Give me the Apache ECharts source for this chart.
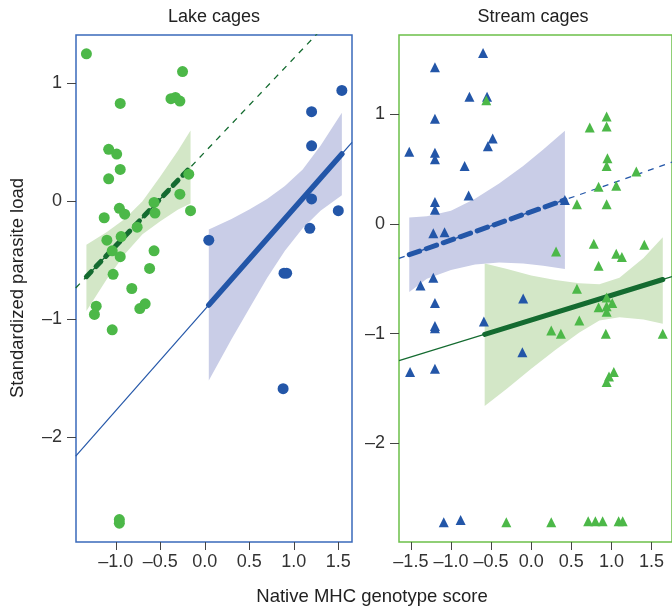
<!DOCTYPE html>
<html><head><meta charset="utf-8">
<script src="https://cdn.jsdelivr.net/npm/echarts@6/dist/echarts.min.js"></script>
<style>html,body{margin:0;padding:0;background:#fff}#c{width:672px;height:608px}</style>
</head><body><div id="c"></div>
<script>
// ---------- data ----------
const panelTitles = ['Lake cages', 'Stream cages'];
const xTicks = [-1.5, -1, -0.5, 0, 0.5, 1, 1.5];
const xTicksLake = [-1, -0.5, 0, 0.5, 1, 1.5];
const yTicks = [-2, -1, 0, 1];
const xName = 'Native MHC genotype score';
const yName = 'Standardized parasite load';

// Lake cages: points
const lakeGreen = [[-1.33,1.25],[-0.25,1.10],[-0.95,0.83],[-0.38,0.87],[-0.33,0.88],[-0.28,0.85],[-1.08,0.44],[-0.99,0.40],[-0.95,0.27],[-1.08,0.19],[-0.18,0.23],[-0.28,0.06],[-0.16,-0.08],[-0.57,-0.01],[-0.56,-0.10],[-0.96,-0.06],[-0.90,-0.11],[-1.13,-0.14],[-0.76,-0.22],[-1.10,-0.33],[-0.94,-0.30],[-1.04,-0.42],[-0.95,-0.47],[-0.57,-0.42],[-0.62,-0.57],[-1.03,-0.62],[-0.82,-0.74],[-1.22,-0.89],[-1.24,-0.96],[-0.73,-0.91],[-0.67,-0.87],[-1.04,-1.09],[-0.96,-2.70],[-0.96,-2.73]];
const lakeBlue = [[1.54,0.94],[1.20,0.76],[1.20,0.47],[1.20,0.02],[1.50,-0.08],[1.18,-0.23],[0.045,-0.33],[0.89,-0.61],[0.92,-0.61],[0.88,-1.59]];

// Stream cages: points
const streamBlue = [[-0.60,1.56],[-1.20,1.43],[-0.77,1.16],[-0.55,1.16],[-1.20,0.96],[-0.48,0.78],[-0.54,0.71],[-1.52,0.66],[-1.20,0.65],[-1.20,0.59],[-0.83,0.53],[-0.78,0.26],[-1.20,0.20],[-1.20,0.13],[0.42,0.22],[-1.22,-0.085],[-1.08,-0.076],[-1.22,-0.49],[-1.38,-0.56],[-1.20,-0.72],[-1.20,-0.93],[-1.20,-0.95],[-0.59,-0.89],[-0.10,-0.68],[-0.11,-1.17],[-1.51,-1.35],[-1.20,-1.32],[-1.09,-2.72],[-0.88,-2.70]];
const streamGreen = [[-0.56,1.13],[0.94,0.98],[0.94,0.89],[0.73,0.88],[0.95,0.60],[0.94,0.53],[1.31,0.48],[0.84,0.34],[1.06,0.35],[0.57,0.18],[0.94,0.18],[0.31,-0.25],[0.78,-0.18],[1.41,-0.19],[1.06,-0.27],[1.13,-0.30],[0.84,-0.38],[0.57,-0.59],[0.94,-0.67],[0.84,-0.76],[1.01,-0.72],[0.94,-0.75],[0.94,-0.80],[0.60,-0.88],[0.25,-0.97],[0.37,-1.00],[0.93,-1.00],[1.64,-1.00],[0.97,-1.39],[1.03,-1.35],[0.94,-1.44],[-0.31,-2.72],[0.25,-2.72],[0.71,-2.71],[0.80,-2.71],[0.89,-2.71],[1.09,-2.71],[1.14,-2.71]];

// Fitted lines: [x, y] end points
const lakeGreenThin  = [[-1.45,-0.736],[1.6,1.689]];
const lakeGreenThick = [[-1.33,-0.640],[-0.16,0.290]];
const lakeBlueThin   = [[-1.45,-2.162],[1.654,0.499]];
const lakeBlueThick  = [[0.045,-0.880],[1.54,0.401]];
const streamBlueThin   = [[-1.648,-0.313],[1.755,0.565]];
const streamBlueThick  = [[-1.52,-0.280],[0.42,0.220]];
const streamGreenThin  = [[-1.648,-1.246],[1.755,-0.480]];
const streamGreenThick = [[-0.58,-1.006],[1.64,-0.506]];

// Confidence bands
const lakeGreenBandX  = [-1.33,-1.1,-0.9,-0.7,-0.5,-0.3,-0.16];
const lakeGreenBandLo = [-0.93,-0.66,-0.45,-0.28,-0.17,-0.07,-0.02];
const lakeGreenBandHi = [-0.37,-0.26,-0.15,0.00,0.21,0.43,0.60];
const lakeBlueBandX  = [0.045,0.3,0.5,0.7,0.9,1.1,1.3,1.54];
const lakeBlueBandLo = [-1.52,-1.17,-0.91,-0.65,-0.42,-0.23,-0.08,0.05];
const lakeBlueBandHi = [-0.24,-0.15,-0.07,0.02,0.13,0.27,0.47,0.75];
const streamBlueBandX  = [-1.52,-1.3,-1.0,-0.7,-0.4,-0.1,0.15,0.42];
const streamBlueBandLo = [-0.62,-0.50,-0.42,-0.37,-0.35,-0.36,-0.38,-0.41];
const streamBlueBandHi = [0.06,0.07,0.12,0.23,0.37,0.53,0.68,0.85];
const streamGreenBandX  = [-0.58,-0.3,0.0,0.3,0.6,0.85,1.1,1.4,1.64];
const streamGreenBandLo = [-1.66,-1.50,-1.32,-1.15,-0.99,-0.88,-0.85,-0.87,-0.91];
const streamGreenBandHi = [-0.36,-0.41,-0.47,-0.51,-0.54,-0.55,-0.49,-0.31,-0.12];

// ---------- style ----------
const FONT = '"Liberation Sans", Arial, Helvetica, sans-serif';
const BLUE = '#2356a8', GREEN = '#4cb848', DKGREEN = '#146b30';
const BLUEBAND = '#c9cde7', GREENBAND = '#d3e7c7';
const TXT = '#333';

const fmtX = v => (v < 0 ? '\u2013' : '') + Math.abs(v).toFixed(1);
const fmtY = v => (v < 0 ? '\u2013' : '') + Math.abs(v);

function xAxisDef(gi, min, max, ticks) {
  return { type:'value', gridIndex:gi, min, max, position:'bottom', splitLine:{show:false},
    axisLine:{show:false, onZero:false},
    axisTick:{show:true, length:8, customValues:ticks, lineStyle:{color:'#444', width:1}},
    axisLabel:{customValues:ticks, formatter:fmtX, fontSize:18, color:TXT, fontFamily:FONT, margin:11} };
}
function yAxisDef(gi, min, max) {
  return { type:'value', gridIndex:gi, min, max, position:'left', splitLine:{show:false},
    axisLine:{show:false, onZero:false},
    axisTick:{show:true, length:9, customValues:yTicks, lineStyle:{color:'#444', width:1}},
    axisLabel:{customValues:yTicks, formatter:fmtY, fontSize:18, color:TXT, fontFamily:FONT, margin:14} };
}
function band(ai, xs, lo, hi, color) {
  return { type:'custom', xAxisIndex:ai, yAxisIndex:ai, data:[[xs[0], lo[0]]], z:1, silent:true, clip:true,
    renderItem:(params, api) => {
      const pts = [];
      for (let i = 0; i < xs.length; i++) pts.push(api.coord([xs[i], hi[i]]));
      for (let i = xs.length - 1; i >= 0; i--) pts.push(api.coord([xs[i], lo[i]]));
      return { type:'polygon', shape:{points:pts}, style:{fill:color} };
    } };
}
function line(ai, data, color, width, type, z) {
  return { type:'line', xAxisIndex:ai, yAxisIndex:ai, data, symbol:'none', silent:true, z, clip:true,
    lineStyle:{color, width, type, cap: width > 2 ? 'round' : 'butt'}, animation:false };
}
function pts(ai, data, color, symbol, size) {
  return { type:'scatter', xAxisIndex:ai, yAxisIndex:ai, data, symbol, symbolSize:size, z:5,
    itemStyle:{color, opacity:1}, silent:true };
}

const chart = echarts.init(document.getElementById('c'), null, {renderer:'canvas'});
chart.setOption({
  animation:false,
  backgroundColor:'#fff',
  grid:[
    {left:76, top:35, width:276, height:507, show:true, borderColor:'#3a6abb', borderWidth:1.5, backgroundColor:'transparent'},
    {left:399, top:35, width:276, height:507, show:true, borderColor:'#6cc04a', borderWidth:1.5, backgroundColor:'transparent'}
  ],
  xAxis:[ xAxisDef(0, -1.447, 1.654, xTicksLake), xAxisDef(1, -1.648, 1.755, xTicks) ],
  yAxis:[ yAxisDef(0, -2.89, 1.41), yAxisDef(1, -2.90, 1.724) ],
  graphic:[
    {type:'text', x:214, y:17, style:{text:panelTitles[0], align:'center', verticalAlign:'middle', fontSize:18, fill:'#222', fontFamily:FONT}},
    {type:'text', x:533, y:17, style:{text:panelTitles[1], align:'center', verticalAlign:'middle', fontSize:18, fill:'#222', fontFamily:FONT}},
    {type:'text', x:372, y:597, style:{text:xName, align:'center', verticalAlign:'middle', fontSize:18.5, fill:'#222', fontFamily:FONT}},
    {type:'text', x:18, y:288, rotation:Math.PI/2, style:{text:yName, align:'center', verticalAlign:'middle', fontSize:18.5, fill:'#222', fontFamily:FONT}}
  ],
  series:[
    band(0, lakeGreenBandX, lakeGreenBandLo, lakeGreenBandHi, GREENBAND),
    band(0, lakeBlueBandX, lakeBlueBandLo, lakeBlueBandHi, BLUEBAND),
    band(1, streamBlueBandX, streamBlueBandLo, streamBlueBandHi, BLUEBAND),
    band(1, streamGreenBandX, streamGreenBandLo, streamGreenBandHi, GREENBAND),
    line(0, lakeGreenThin, DKGREEN, 1.3, [6,6], 2),
    line(0, lakeBlueThin, BLUE, 1.2, 'solid', 2),
    line(1, streamBlueThin, BLUE, 1.3, [6,6], 2),
    line(1, streamGreenThin, DKGREEN, 1.2, 'solid', 2),
    line(0, lakeGreenThick, DKGREEN, 5, [7,7], 3),
    line(0, lakeBlueThick, BLUE, 5.5, 'solid', 3),
    line(1, streamBlueThick, BLUE, 5, [11,7], 3),
    line(1, streamGreenThick, DKGREEN, 5, 'solid', 3),
    pts(0, lakeGreen, GREEN, 'circle', 11),
    pts(0, lakeBlue, BLUE, 'circle', 11),
    pts(1, streamBlue, BLUE, 'triangle', 10),
    pts(1, streamGreen, GREEN, 'triangle', 10)
  ]
});
</script></body></html>
